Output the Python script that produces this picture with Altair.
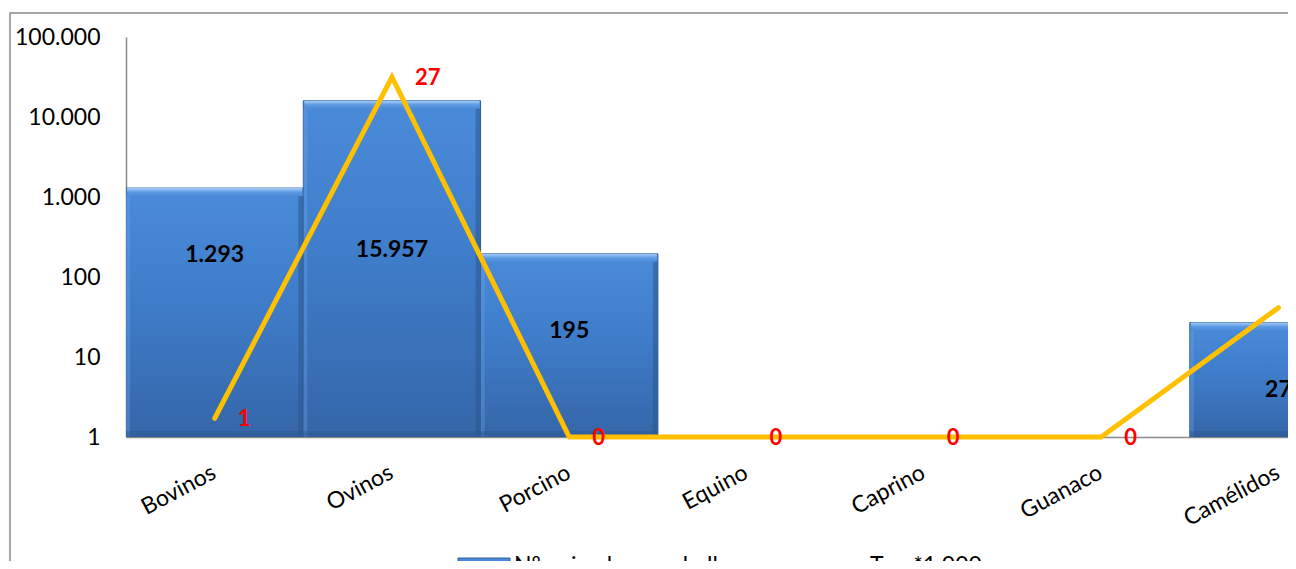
import json
import altair as alt
import pandas as pd

categories = ["Bovinos", "Ovinos", "Porcino", "Equino", "Caprino", "Guanaco", "Camélidos"]
animales = [1293, 15957, 195, 0, 0, 0, 27]
tasa = [1.4, 27.0, 0, 0, 0, 0, 9.7]
bar_label_anchor = [188, 218, 21, None, None, None, 3.9]
y_ticks = [1, 10, 100, 1000, 10000, 100000]
legend_names = ["Nº animales con hallazgos", "Tasa*1.000"]

df = pd.DataFrame({"idx": list(range(len(categories))), "cat": categories,
                   "animales": animales, "tasa": tasa, "anchor": bar_label_anchor})
bars_df = df[df["animales"] > 0].copy()

W, H = 1162, 400
FONT = "Lato"
FS = 23
GREY = "#8a8a8a"
X_MAX = -0.5 + W / 177.3  # visible part of the category range (last band is cut off)

cat_expr = json.dumps(categories) + "[datum.value]"
x_scale = alt.Scale(domain=[-0.5, X_MAX], nice=False, zero=False)
x_axis = alt.Axis(title=None, values=list(range(len(categories))), labelExpr=cat_expr,
                  labelAngle=-28, labelAlign="right", labelBaseline="top",
                  labelPadding=24, labelOffset=-6, ticks=False, grid=False,
                  domainColor=GREY, domainWidth=1.5, labelFont=FONT, labelFontSize=FS,
                  labelColor="#000000", labelOverlap=False, labelFlush=False)
y_scale = alt.Scale(type="log", domain=[1, 100000])

bar_fill = alt.Gradient(
    gradient="linear", x1=0, y1=0, x2=0, y2=1,
    stops=[alt.GradientStop(color="#4a8bd9", offset=0),
           alt.GradientStop(color="#3f7dca", offset=0.45),
           alt.GradientStop(color="#3566a8", offset=1)])
top_fill = alt.Gradient(
    gradient="linear", x1=0, y1=0, x2=0, y2=1,
    stops=[alt.GradientStop(color="#a8cdf7", offset=0),
           alt.GradientStop(color="#5d9be3", offset=0.5),
           alt.GradientStop(color="#4a8bd9", offset=1)])

bar_base = alt.Chart(bars_df).transform_calculate(
    x0="datum.idx - 0.5", x1="datum.idx + 0.5"
)

bars = bar_base.mark_bar(fill=bar_fill, stroke="#2f5d97", strokeWidth=1, clip=True).encode(
    x=alt.X("x0:Q", scale=x_scale, axis=x_axis),
    x2="x1:Q",
    y=alt.Y("animales:Q", scale=y_scale,
            axis=alt.Axis(title=None, values=y_ticks, ticks=False, grid=False,
                          domainColor=GREY, domainWidth=1.5, labelPadding=26,
                          labelFont=FONT, labelFontSize=FS, labelColor="#000000",
                          labelExpr="replace(format(datum.value, ','), ',', '.')")),
    y2=alt.datum(1),
)

# bevel strips of the bars
bevel_top = bar_base.mark_rect(fill=top_fill, clip=True, y2Offset=8, x2Offset=-1,
                               xOffset=1).encode(
    x="x0:Q", x2="x1:Q", y="animales:Q", y2="animales:Q")
bevel_right = bar_base.mark_rect(color="#2b5890", opacity=0.55, clip=True,
                                 xOffset=-5, yOffset=8).encode(
    x="x1:Q", x2="x1:Q", y="animales:Q", y2=alt.datum(1))
bevel_left = bar_base.mark_rect(color="#6ea6e6", opacity=0.35, clip=True,
                                x2Offset=4, yOffset=8).encode(
    x="x0:Q", x2="x0:Q", y="animales:Q", y2=alt.datum(1))
bevel_bottom = bar_base.mark_rect(color="#2b5890", opacity=0.45, clip=True,
                                  yOffset=-6).encode(
    x="x0:Q", x2="x1:Q", y=alt.datum(1), y2=alt.datum(1))

bar_text = alt.Chart(bars_df).transform_calculate(
    lbl="replace(format(datum.animales, ','), ',', '.')"
).mark_text(font=FONT, fontSize=FS, fontWeight="bold", color="#000000").encode(
    x=alt.X("idx:Q"),
    y=alt.Y("anchor:Q"),
    text="lbl:N",
)

bar_layer = alt.layer(bars, bevel_top, bevel_left, bevel_right, bevel_bottom, bar_text)

line = alt.Chart(df).mark_line(color="#FFC000", strokeWidth=5, strokeJoin="miter",
                               strokeCap="round").encode(
    x=alt.X("idx:Q"),
    y=alt.Y("tasa:Q", scale=alt.Scale(domain=[0, 30]), axis=None),
)

line_text = alt.Chart(df).transform_calculate(
    lbl="format(datum.tasa, '.0f')"
).mark_text(font=FONT, fontSize=22, fontWeight="bold", color="#FF0000",
            align="left", dx=23, dy=1).encode(
    x=alt.X("idx:Q"),
    y=alt.Y("tasa:Q"),
    text="lbl:N",
)

line_layer = alt.layer(line, line_text)

one = pd.DataFrame({"a": [0]})
border = alt.Chart(one).mark_rect(fillOpacity=0, stroke=GREY, strokeWidth=1.5).encode(
    x=alt.value(-116), x2=alt.value(W + 60), y=alt.value(-24), y2=alt.value(H + 200))

leg_df = pd.DataFrame({"name": legend_names})
LEG_Y = 529
leg_swatch = alt.Chart(one).mark_rect(fill=bar_fill, stroke="#30609c").encode(
    x=alt.value(332), x2=alt.value(384), y=alt.value(LEG_Y - 8), y2=alt.value(LEG_Y + 14))
leg_line = alt.Chart(one).mark_rule(color="#FFC000", strokeWidth=4.5).encode(
    x=alt.value(676), x2=alt.value(736), y=alt.value(LEG_Y + 3))
leg_text1 = alt.Chart(leg_df).transform_filter(
    alt.datum.name == legend_names[0]
).mark_text(font=FONT, fontSize=FS, align="left", baseline="middle", color="#000000").encode(
    x=alt.value(388), y=alt.value(LEG_Y), text="name:N")
leg_text2 = alt.Chart(leg_df).transform_filter(
    alt.datum.name == legend_names[1]
).mark_text(font=FONT, fontSize=FS, align="left", baseline="middle", color="#000000").encode(
    x=alt.value(744), y=alt.value(LEG_Y), text="name:N")

chart = alt.layer(
    border, bar_layer, line_layer, leg_swatch, leg_line, leg_text1, leg_text2
).resolve_scale(y="independent").properties(
    width=W, height=H,
    padding={"left": 118, "top": 29, "right": 0, "bottom": 124},
    autosize=alt.AutoSizeParams(type="none"),
    background="#ffffff",
).configure_view(stroke=None)

chart.save("out.html", embed_options={"renderer": "svg", "actions": False})
